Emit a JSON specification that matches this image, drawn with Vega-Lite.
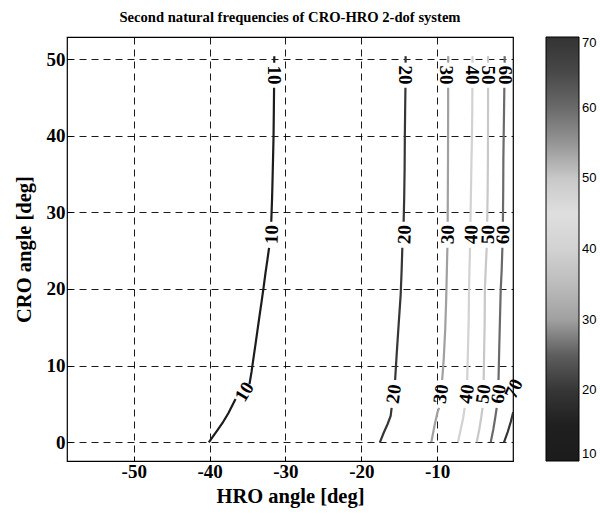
{
  "$schema": "https://vega.github.io/schema/vega-lite/v6.json",
  "width": 446,
  "height": 424,
  "autosize": {"type": "none"},
  "padding": {"left": 67, "top": 37, "right": 87, "bottom": 55},
  "background": "white",
  "title": {"text": "Second natural frequencies of CRO-HRO 2-dof system", "font": "Liberation Serif", "fontSize": 14.6, "fontWeight": "bold", "color": "black", "anchor": "middle", "offset": 12},
  "config": {
    "view": {"stroke": "black", "strokeWidth": 1.2},
    "axis": {
      "domain": false,
      "grid": true,
      "gridColor": "black",
      "gridOpacity": 1,
      "gridDash": [7, 5],
      "gridWidth": 0.9,
      "ticks": true,
      "tickColor": "black",
      "tickSize": -5,
      "labelFont": "Liberation Serif",
      "labelFontWeight": "bold",
      "labelFontSize": 19,
      "labelColor": "black",
      "titleFont": "Liberation Serif",
      "titleFontWeight": "bold",
      "titleFontSize": 20.5,
      "titleColor": "black"
    }
  },
  "datasets": {
    "lines": [
      {"level": 10, "seg": "10a", "x": -40.1, "y": 0},
      {"level": 10, "seg": "10a", "x": -39.62, "y": 0.69},
      {"level": 10, "seg": "10a", "x": -38.96, "y": 1.6},
      {"level": 10, "seg": "10a", "x": -38.3, "y": 2.52},
      {"level": 10, "seg": "10a", "x": -37.51, "y": 3.82},
      {"level": 10, "seg": "10a", "x": -36.58, "y": 5.65},
      {"level": 10, "seg": "10b", "x": -34.74, "y": 7.61},
      {"level": 10, "seg": "10b", "x": -34.47, "y": 9.18},
      {"level": 10, "seg": "10b", "x": -34.21, "y": 11.0},
      {"level": 10, "seg": "10b", "x": -33.94, "y": 12.83},
      {"level": 10, "seg": "10b", "x": -33.68, "y": 14.66},
      {"level": 10, "seg": "10b", "x": -33.42, "y": 16.49},
      {"level": 10, "seg": "10b", "x": -33.15, "y": 18.32},
      {"level": 10, "seg": "10b", "x": -32.89, "y": 20.14},
      {"level": 10, "seg": "10b", "x": -32.63, "y": 22.1},
      {"level": 10, "seg": "10b", "x": -32.36, "y": 23.93},
      {"level": 10, "seg": "10b", "x": -32.16, "y": 25.37},
      {"level": 10, "seg": "10c", "x": -31.87, "y": 28.77},
      {"level": 10, "seg": "10c", "x": -31.77, "y": 31.64},
      {"level": 10, "seg": "10c", "x": -31.7, "y": 34.25},
      {"level": 10, "seg": "10c", "x": -31.64, "y": 36.86},
      {"level": 10, "seg": "10c", "x": -31.57, "y": 39.86},
      {"level": 10, "seg": "10c", "x": -31.53, "y": 43.38},
      {"level": 10, "seg": "10c", "x": -31.5, "y": 46.25},
      {"level": 10, "seg": "10d", "x": -31.48, "y": 49.52},
      {"level": 10, "seg": "10d", "x": -31.47, "y": 50.37},
      {"level": 20, "seg": "20a", "x": -17.55, "y": 0},
      {"level": 20, "seg": "20a", "x": -17.06, "y": 1.21},
      {"level": 20, "seg": "20a", "x": -16.53, "y": 2.39},
      {"level": 20, "seg": "20a", "x": -16.13, "y": 3.43},
      {"level": 20, "seg": "20a", "x": -16.0, "y": 4.48},
      {"level": 20, "seg": "20b", "x": -15.54, "y": 8.13},
      {"level": 20, "seg": "20b", "x": -15.34, "y": 11.4},
      {"level": 20, "seg": "20b", "x": -15.08, "y": 15.31},
      {"level": 20, "seg": "20b", "x": -14.81, "y": 19.23},
      {"level": 20, "seg": "20b", "x": -14.68, "y": 22.49},
      {"level": 20, "seg": "20b", "x": -14.59, "y": 25.37},
      {"level": 20, "seg": "20c", "x": -14.42, "y": 28.77},
      {"level": 20, "seg": "20c", "x": -14.35, "y": 31.64},
      {"level": 20, "seg": "20c", "x": -14.29, "y": 35.55},
      {"level": 20, "seg": "20c", "x": -14.26, "y": 39.86},
      {"level": 20, "seg": "20c", "x": -14.22, "y": 43.38},
      {"level": 20, "seg": "20c", "x": -14.18, "y": 46.25},
      {"level": 20, "seg": "20d", "x": -14.16, "y": 49.52},
      {"level": 20, "seg": "20d", "x": -14.16, "y": 50.37},
      {"level": 30, "seg": "30a", "x": -10.77, "y": 0},
      {"level": 30, "seg": "30a", "x": -10.33, "y": 2.26},
      {"level": 30, "seg": "30a", "x": -9.94, "y": 3.96},
      {"level": 30, "seg": "30a", "x": -9.74, "y": 4.48},
      {"level": 30, "seg": "30b", "x": -9.34, "y": 8.13},
      {"level": 30, "seg": "30b", "x": -9.14, "y": 10.74},
      {"level": 30, "seg": "30b", "x": -8.94, "y": 14.66},
      {"level": 30, "seg": "30b", "x": -8.81, "y": 18.58},
      {"level": 30, "seg": "30b", "x": -8.72, "y": 22.49},
      {"level": 30, "seg": "30b", "x": -8.65, "y": 25.37},
      {"level": 30, "seg": "30c", "x": -8.61, "y": 28.77},
      {"level": 30, "seg": "30c", "x": -8.59, "y": 32.94},
      {"level": 30, "seg": "30c", "x": -8.57, "y": 36.86},
      {"level": 30, "seg": "30c", "x": -8.56, "y": 40.77},
      {"level": 30, "seg": "30c", "x": -8.55, "y": 43.38},
      {"level": 30, "seg": "30c", "x": -8.55, "y": 46.25},
      {"level": 30, "seg": "30d", "x": -8.54, "y": 49.52},
      {"level": 30, "seg": "30d", "x": -8.54, "y": 50.37},
      {"level": 40, "seg": "40a", "x": -7.26, "y": 0},
      {"level": 40, "seg": "40a", "x": -6.91, "y": 1.61},
      {"level": 40, "seg": "40a", "x": -6.57, "y": 3.17},
      {"level": 40, "seg": "40a", "x": -6.37, "y": 4.48},
      {"level": 40, "seg": "40b", "x": -6.04, "y": 8.13},
      {"level": 40, "seg": "40b", "x": -5.94, "y": 12.05},
      {"level": 40, "seg": "40b", "x": -5.84, "y": 15.97},
      {"level": 40, "seg": "40b", "x": -5.8, "y": 19.88},
      {"level": 40, "seg": "40b", "x": -5.74, "y": 22.49},
      {"level": 40, "seg": "40b", "x": -5.67, "y": 25.37},
      {"level": 40, "seg": "40c", "x": -5.61, "y": 28.77},
      {"level": 40, "seg": "40c", "x": -5.54, "y": 32.94},
      {"level": 40, "seg": "40c", "x": -5.47, "y": 36.86},
      {"level": 40, "seg": "40c", "x": -5.41, "y": 39.86},
      {"level": 40, "seg": "40c", "x": -5.37, "y": 43.38},
      {"level": 40, "seg": "40c", "x": -5.36, "y": 46.25},
      {"level": 40, "seg": "40d", "x": -5.34, "y": 49.52},
      {"level": 40, "seg": "40d", "x": -5.34, "y": 50.37},
      {"level": 50, "seg": "50a", "x": -4.79, "y": 0},
      {"level": 50, "seg": "50a", "x": -4.46, "y": 1.61},
      {"level": 50, "seg": "50a", "x": -4.2, "y": 3.17},
      {"level": 50, "seg": "50a", "x": -4.02, "y": 4.48},
      {"level": 50, "seg": "50b", "x": -3.87, "y": 8.13},
      {"level": 50, "seg": "50b", "x": -3.8, "y": 12.05},
      {"level": 50, "seg": "50b", "x": -3.73, "y": 15.97},
      {"level": 50, "seg": "50b", "x": -3.71, "y": 19.88},
      {"level": 50, "seg": "50b", "x": -3.6, "y": 22.49},
      {"level": 50, "seg": "50b", "x": -3.47, "y": 25.37},
      {"level": 50, "seg": "50c", "x": -3.4, "y": 28.77},
      {"level": 50, "seg": "50c", "x": -3.34, "y": 32.94},
      {"level": 50, "seg": "50c", "x": -3.31, "y": 36.86},
      {"level": 50, "seg": "50c", "x": -3.3, "y": 39.86},
      {"level": 50, "seg": "50c", "x": -3.29, "y": 43.38},
      {"level": 50, "seg": "50c", "x": -3.29, "y": 46.25},
      {"level": 50, "seg": "50d", "x": -3.29, "y": 49.52},
      {"level": 50, "seg": "50d", "x": -3.29, "y": 50.37},
      {"level": 60, "seg": "60a", "x": -2.94, "y": 0},
      {"level": 60, "seg": "60a", "x": -2.61, "y": 1.61},
      {"level": 60, "seg": "60a", "x": -2.35, "y": 3.17},
      {"level": 60, "seg": "60a", "x": -2.15, "y": 4.48},
      {"level": 60, "seg": "60b", "x": -1.91, "y": 8.13},
      {"level": 60, "seg": "60b", "x": -1.82, "y": 12.05},
      {"level": 60, "seg": "60b", "x": -1.72, "y": 15.97},
      {"level": 60, "seg": "60b", "x": -1.62, "y": 19.88},
      {"level": 60, "seg": "60b", "x": -1.49, "y": 22.49},
      {"level": 60, "seg": "60b", "x": -1.4, "y": 25.37},
      {"level": 60, "seg": "60c", "x": -1.33, "y": 28.77},
      {"level": 60, "seg": "60c", "x": -1.29, "y": 32.94},
      {"level": 60, "seg": "60c", "x": -1.27, "y": 36.86},
      {"level": 60, "seg": "60c", "x": -1.23, "y": 39.86},
      {"level": 60, "seg": "60c", "x": -1.18, "y": 43.38},
      {"level": 60, "seg": "60c", "x": -1.14, "y": 46.25},
      {"level": 60, "seg": "60d", "x": -1.1, "y": 49.52},
      {"level": 60, "seg": "60d", "x": -1.1, "y": 50.37},
      {"level": 70, "seg": "70a", "x": -1.19, "y": 0},
      {"level": 70, "seg": "70a", "x": -0.7, "y": 1.34},
      {"level": 70, "seg": "70a", "x": -0.3, "y": 2.65},
      {"level": 70, "seg": "70a", "x": 0.03, "y": 3.96}
    ],
    "labels": [
      {"level": 10, "pos": "bottom", "x": -35.4, "y": 6.6},
      {"level": 10, "pos": "middle", "x": -31.8, "y": 27.1},
      {"level": 10, "pos": "top", "x": -31.5, "y": 47.9},
      {"level": 20, "pos": "bottom", "x": -15.7, "y": 6.3},
      {"level": 20, "pos": "middle", "x": -14.3, "y": 27.1},
      {"level": 20, "pos": "top", "x": -14.2, "y": 47.9},
      {"level": 30, "pos": "bottom", "x": -9.5, "y": 6.3},
      {"level": 30, "pos": "middle", "x": -8.6, "y": 27.1},
      {"level": 30, "pos": "top", "x": -8.8, "y": 47.9},
      {"level": 40, "pos": "bottom", "x": -6.1, "y": 6.3},
      {"level": 40, "pos": "middle", "x": -5.5, "y": 27.1},
      {"level": 40, "pos": "top", "x": -5.4, "y": 47.9},
      {"level": 50, "pos": "bottom", "x": -3.9, "y": 6.3},
      {"level": 50, "pos": "middle", "x": -3.3, "y": 27.1},
      {"level": 50, "pos": "top", "x": -3.3, "y": 47.9},
      {"level": 60, "pos": "bottom", "x": -1.9, "y": 6.3},
      {"level": 60, "pos": "middle", "x": -1.3, "y": 27.1},
      {"level": 60, "pos": "top", "x": -1.1, "y": 47.9},
      {"level": 70, "pos": "bottom", "x": 0.1, "y": 7.0}
    ]
  },
  "encoding": {
    "x": {"field": "x", "type": "quantitative", "scale": {"domain": [-58.8, 0], "nice": false, "zero": false},
      "axis": {"title": "HRO angle [deg]", "values": [-50, -40, -30, -20, -10], "labelExpr": "datum.value < 0 ? '-' + abs(datum.value) : '' + datum.value", "labelPadding": 6, "titlePadding": 5}},
    "y": {"field": "y", "type": "quantitative", "scale": {"domain": [-2.44, 52.87], "nice": false, "zero": false},
      "axis": {"title": "CRO angle [deg]", "values": [0, 10, 20, 30, 40, 50], "labelPadding": 7, "titlePadding": 12}}
  },
  "layer": [
    {
      "data": {"name": "lines"},
      "mark": {"type": "line", "strokeWidth": 2.2, "clip": true},
      "encoding": {
        "color": {"field": "level", "type": "quantitative",
          "scale": {"domain": [10, 17, 20, 25, 30, 35, 40, 47, 50, 55, 60, 65, 70],
                    "range": ["#1c1c1c", "#202020", "#363636", "#5e5e5e", "#a0a0a0", "#bcbcbc", "#d2d2d2", "#e4e4e4", "#c8c8c8", "#959595", "#6a6a6a", "#484848", "#333333"]},
          "legend": {"orient": "none", "legendX": 479, "legendY": 0, "direction": "vertical", "title": null,
            "gradientLength": 424, "gradientThickness": 33, "gradientStrokeColor": "black", "gradientStrokeWidth": 1,
            "values": [10, 20, 30, 40, 50, 60, 70], "labelFont": "Liberation Sans", "labelFontSize": 13, "labelColor": "black", "labelOffset": 3, "labelOverlap": false}},
        "detail": {"field": "seg"},
        "order": {"field": "y", "type": "quantitative"}
      }
    },
    {
      "data": {"name": "labels"},
      "transform": [{"filter": "datum.pos === 'top'"}],
      "mark": {"type": "text", "angle": 90, "font": "Liberation Serif", "fontWeight": "bold", "fontSize": 19, "color": "black", "baseline": "middle", "align": "center"},
      "encoding": {"text": {"field": "level", "type": "quantitative"}}
    },
    {
      "data": {"name": "labels"},
      "transform": [{"filter": "datum.pos === 'middle'"}],
      "mark": {"type": "text", "angle": -88, "font": "Liberation Serif", "fontWeight": "bold", "fontSize": 19, "color": "black", "baseline": "middle", "align": "center"},
      "encoding": {"text": {"field": "level", "type": "quantitative"}}
    },
    {
      "data": {"name": "labels"},
      "transform": [{"filter": "datum.pos === 'bottom' && datum.level >= 20 && datum.level <= 60"}],
      "mark": {"type": "text", "angle": -82, "font": "Liberation Serif", "fontWeight": "bold", "fontSize": 19, "color": "black", "baseline": "middle", "align": "center"},
      "encoding": {"text": {"field": "level", "type": "quantitative"}}
    },
    {
      "data": {"name": "labels"},
      "transform": [{"filter": "datum.pos === 'bottom' && datum.level === 10"}],
      "mark": {"type": "text", "angle": -58, "font": "Liberation Serif", "fontWeight": "bold", "fontSize": 19, "color": "black", "baseline": "middle", "align": "center"},
      "encoding": {"text": {"field": "level", "type": "quantitative"}}
    },
    {
      "data": {"name": "labels"},
      "transform": [{"filter": "datum.pos === 'bottom' && datum.level === 70"}],
      "mark": {"type": "text", "angle": -65, "font": "Liberation Serif", "fontWeight": "bold", "fontSize": 19, "color": "black", "baseline": "middle", "align": "center"},
      "encoding": {"text": {"field": "level", "type": "quantitative"}}
    }
  ]
}
